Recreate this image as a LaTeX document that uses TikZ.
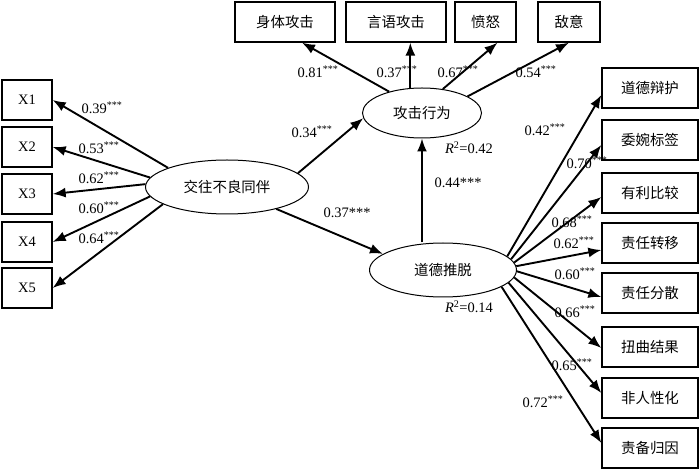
\documentclass[tikz,border=0pt]{standalone}
\usepackage{fontspec}
\setmainfont{Liberation Serif}
\newfontfamily\cjk{Noto Sans CJK SC}
\usetikzlibrary{shapes.geometric,arrows.meta}
\newcommand{\sg}{\textsuperscript{***}}

\begin{document}
\begin{tikzpicture}
    [
    x=1bp,y=-1bp,
    every node/.style={font=\fontsize{14.5}{17}\selectfont},
    box/.style={rectangle,draw,line width=1.3bp,inner sep=0pt,minimum height=40bp,minimum width=50bp},
    latent/.style={ellipse,draw,line width=1bp,inner sep=0pt},
    arr/.style={line width=1.9bp,-{Latex[length=13bp,width=10bp]}}
    ]
    \useasboundingbox (0,0) rectangle (700,469);
    % latent variables
    \node (peer) at (227,187) [latent,minimum width=163bp,minimum height=54bp] {\cjk 交往不良同伴};
    \node (agg) at (422,113) [latent,minimum width=119bp,minimum height=50bp] {\cjk 攻击行为};
    \node (mdis) at (443,270) [latent,minimum width=147bp,minimum height=54bp] {\cjk 道德推脱};
    % indicators
    \node (x1) at (27,100) [box] {X1};
    \node (x2) at (27,147) [box] {X2};
    \node (x3) at (27,194) [box] {X3};
    \node (x4) at (27,242) [box] {X4};
    \node (x5) at (27,288) [box] {X5};
    \node (phys) at (285,22) [box,minimum width=100bp] {\cjk 身体攻击};
    \node (verb) at (396,22) [box,minimum width=100bp] {\cjk 言语攻击};
    \node (anger) at (485.5,22) [box,minimum width=61bp] {\cjk 愤怒};
    \node (host) at (569,22) [box,minimum width=62bp] {\cjk 敌意};
    \node (b1) at (650,88) [box,minimum width=96bp] {\cjk 道德辩护};
    \node (b2) at (650,140) [box,minimum width=96bp] {\cjk 委婉标签};
    \node (b3) at (650,193) [box,minimum width=96bp] {\cjk 有利比较};
    \node (b4) at (650,243) [box,minimum width=96bp] {\cjk 责任转移};
    \node (b5) at (650,293) [box,minimum width=96bp] {\cjk 责任分散};
    \node (b6) at (650,347) [box,minimum width=96bp] {\cjk 扭曲结果};
    \node (b7) at (650,398) [box,minimum width=96bp] {\cjk 非人性化};
    \node (b8) at (650,448) [box,minimum width=96bp] {\cjk 责备归因};
    % loadings
    \foreach \x/\a in {x1/162,x2/173,x3/178,x4/187,x5/195}
      \draw [arr] (peer.\a) -- (\x.east);
    \foreach \b/\a/\s in {b1/12/-7,b2/9/-5,b3/6/-4,b4/3/-7,b5/359/-4,b6/354/-1,b7/349/5,b8/344/5}
      \draw [arr] (mdis.\a) -- ([yshift=\s bp]\b.west);
    \draw [arr] (agg.147) -- ([xshift=17bp]phys.south);
    \draw [arr] (agg.115) -- (agg.115 |- verb.south);
    \draw [arr] (agg.49) -- ([xshift=12bp]anger.south);
    \draw [arr] (agg.20) -- (host.south);
    % paths
    \draw [arr] (peer.11) -- (agg.185);
    \draw [arr] (peer.336) -- (mdis.165);
    \draw [arr] (agg.south |- mdis.north) -- (agg.south);
    % coefficients
    \node (c1) at (102,108) {0.39\sg};
    \node (c2) at (99,148) {0.53\sg};
    \node (c3) at (99,178) {0.62\sg};
    \node (c4) at (99,208) {0.60\sg};
    \node (c5) at (99,238) {0.64\sg};
    \node (d1) at (318,72) {0.81\sg};
    \node (d2) at (397,72) {0.37\sg};
    \node (d3) at (458,72) {0.67\sg};
    \node (d4) at (536,72) {0.54\sg};
    \node (e1) at (545,130) {0.42\sg};
    \node (e2) at (587,163) {0.70\sg};
    \node (e3) at (572,222) {0.68\sg};
    \node (e4) at (574,243) {0.62\sg};
    \node (e5) at (575,274) {0.60\sg};
    \node (e6) at (575,312) {0.66\sg};
    \node (e7) at (572,365) {0.65\sg};
    \node (e8) at (543,402) {0.72\sg};
    \node (p1) at (312,132) {0.34\sg};
    \node (p2) at (347,213) {0.37***};
    \node (p3) at (458,183) {0.44***};
    \node (r1) at (469,148) {\textit{R}\textsuperscript{2}=0.42};
    \node (r2) at (469,307) {\textit{R}\textsuperscript{2}=0.14};
  \end{tikzpicture}
\end{document}
